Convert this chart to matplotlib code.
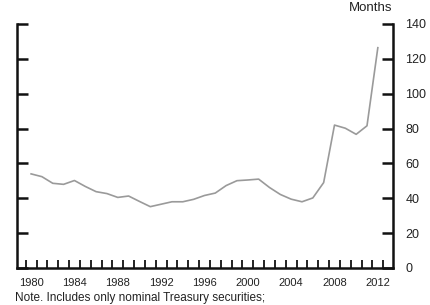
import matplotlib
matplotlib.use("Agg")
import matplotlib.pyplot as plt
from matplotlib.ticker import FixedLocator

plt.rcParams['font.family'] = ['Liberation Sans', 'DejaVu Sans']

years = list(range(1980, 2013))
months = [54.0, 52.4, 48.6, 48.0, 50.2, 46.8, 43.8, 42.7, 40.5, 41.3,
          38.2, 35.2, 36.6, 38.0, 38.0, 39.4, 41.6, 43.0, 47.3, 50.1,
          50.5, 51.0, 46.2, 42.2, 39.5, 38.0, 40.2, 49.0, 82.0, 80.2,
          76.7, 81.6, 126.4]
xtick_years = [1980, 1984, 1988, 1992, 1996, 2000, 2004, 2008, 2012]
ytick_vals = [0, 20, 40, 60, 80, 100, 120, 140]

fig = plt.figure(figsize=(4.31, 3.05), dpi=100)
ax = fig.add_axes([17/431, 1-268/305, (393-17)/431, (268-24)/305])

ax.plot(years, months, color='#9a9a9a', lw=1.2)

ax.set_xlim(1978.7, 2013.4)
ax.set_ylim(0, 140)

for s in ['left', 'right', 'bottom']:
    ax.spines[s].set_linewidth(1.8)
    ax.spines[s].set_color('#111111')
ax.spines['top'].set_visible(False)

ax.set_xticks(xtick_years)
ax.set_xticklabels([str(y) for y in xtick_years])
ax.xaxis.set_minor_locator(FixedLocator([y + 0.5 for y in range(1979, 2013)]))
ax.tick_params(axis='x', which='major', length=0, pad=7, labelsize=8, labelcolor='#222222')
ax.tick_params(axis='x', which='minor', direction='in', length=6, width=1.3, color='#111111', top=False)

ax.set_yticks(ytick_vals)
ax.yaxis.set_minor_locator(FixedLocator([140]))
ax.tick_params(axis='y', which='major', direction='in', length=8, width=1.8, color='#111111',
               left=True, right=True, labelleft=False, labelright=True, pad=9,
               labelsize=9, labelcolor='#222222')
ax.tick_params(axis='y', which='minor', direction='in', length=14, width=1.8, color='#111111',
               left=True, right=True)

fig.text(392/431, 1-8/305, 'Months', ha='right', va='center', fontsize=9.5, color='#222222')
fig.text(15/431, 1-292/305, 'Note. Includes only nominal Treasury securities;', ha='left', va='top',
         fontsize=8.5, color='#222222')

fig.savefig('out.png', dpi=100)
